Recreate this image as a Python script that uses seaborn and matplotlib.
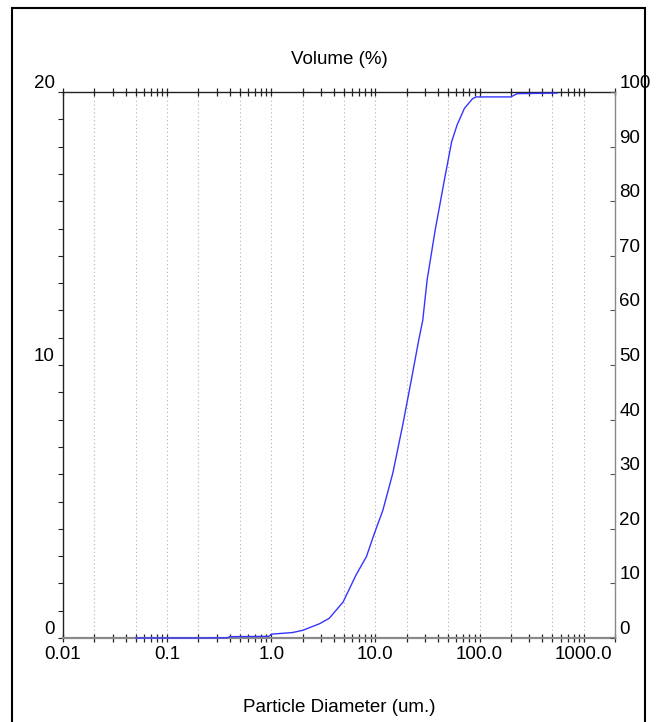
import numpy as np
import pandas as pd
import seaborn as sns
import matplotlib.pyplot as plt
from matplotlib.patches import Rectangle
from matplotlib.ticker import LogLocator, NullFormatter, FixedLocator, FixedFormatter, MultipleLocator

# cumulative volume curve
diameter = [0.05, 0.1, 0.2, 0.3, 0.38, 0.4, 0.6, 0.95, 1.0, 1.6, 2.0, 2.9, 3.6, 4.9,
            6.5, 8.2, 9.8, 11.8, 14.7, 18.3, 22.0, 26.1, 28.5, 31.4, 37.5, 46.0,
            54.0, 61.0, 71.6, 86.0, 93.0, 100.0, 200.0, 230.0, 560.0]
cum_volume = [0.0, 0.0, 0.0, 0.02, 0.05, 0.25, 0.27, 0.3, 0.7, 1.0, 1.4, 2.6, 3.6, 6.6,
              11.5, 14.9, 19.2, 23.4, 30.2, 39.0, 47.0, 54.6, 58.2, 65.6, 74.7, 83.9,
              90.9, 94.0, 97.0, 98.8, 99.1, 99.1, 99.1, 99.7, 99.8]
x_tick_vals = [0.01, 0.1, 1.0, 10.0, 100.0, 1000.0]
x_tick_labels = ["0.01", "0.1", "1.0", "10.0", "100.0", "1000.0"]
left_tick_vals = [0, 10, 20]
right_tick_vals = list(range(0, 101, 10))

df = pd.DataFrame({"diameter": diameter, "volume": cum_volume})

sns.set_style("white")
plt.rcParams["font.family"] = ["Liberation Sans", "DejaVu Sans"]
plt.rcParams["font.size"] = 13.5
for key in ["text.color", "axes.labelcolor", "xtick.labelcolor", "ytick.labelcolor"]:
    plt.rcParams[key] = "black"

fig = plt.figure(figsize=(6.57, 7.22), dpi=100)
ax = fig.add_axes([63 / 657, 1 - 638 / 722, (615 - 63) / 657, (638 - 92) / 722])
ax.set_xscale("log")
ax.set_ylim(0, 20)

ax2 = ax.twinx()
ax2.set_ylim(0, 100)
sns.lineplot(data=df, x="diameter", y="volume", ax=ax2, color="#3535ff", lw=1.0,
             estimator=None, sort=False, clip_on=False, zorder=5)
ax2.set_ylabel("")
ax2.set_xlabel("")
ax.set_xlim(0.01, 2000)

# vertical dotted grid at 1, 2, 5 per decade
grid_pos = [m * 10.0 ** e for e in range(-2, 4) for m in (1, 2, 5)][1:]
for g in grid_pos:
    ax.axvline(g, color="#b0b0b0", lw=0.8, ls=(0, (1, 2.5)), zorder=0)

ax.xaxis.set_major_locator(FixedLocator(x_tick_vals))
ax.xaxis.set_major_formatter(FixedFormatter(x_tick_labels))
ax.xaxis.set_minor_locator(LogLocator(base=10, subs=np.arange(2, 10)))
ax.xaxis.set_minor_formatter(NullFormatter())
ax.tick_params(axis="x", which="both", direction="inout", length=6, width=0.9,
               color="#222222", top=True, bottom=True, pad=3, labelsize=13.5)

ax.yaxis.set_major_locator(FixedLocator(left_tick_vals))
ax.yaxis.set_minor_locator(MultipleLocator(1))
ax.tick_params(axis="y", which="both", direction="out", length=3.5, width=0.8,
               color="#222222", left=True, pad=2.5, labelsize=13.5)
for lbl in ax.get_yticklabels():
    lbl.set_va("bottom")

for side in ["top", "left"]:
    ax.spines[side].set_color("#222222")
    ax.spines[side].set_linewidth(1.0)
ax.spines["bottom"].set_color("#8a8a8a")
ax.spines["bottom"].set_linewidth(1.6)
ax.spines["right"].set_visible(False)

ax2.yaxis.set_major_locator(FixedLocator(right_tick_vals))
ax2.tick_params(axis="y", direction="in", length=3.5, width=0.8, color="#555555",
                right=True, pad=3, labelsize=13.5)
for lbl in ax2.get_yticklabels():
    lbl.set_va("bottom")
for side in ["top", "left", "bottom"]:
    ax2.spines[side].set_visible(False)
ax2.spines["right"].set_color("#8a8a8a")
ax2.spines["right"].set_linewidth(1.0)

ax.set_xlabel("Particle Diameter (um.)", fontsize=13.5)
ax.xaxis.set_label_coords(0.5, (638 - 708) / 546)
ax.xaxis.label.set_va("center")

fig.text(0.5 * (63 + 615) / 657, 1 - 60 / 722, "Volume (%)", ha="center", va="center",
         fontsize=13.5)

fig.patches.append(Rectangle((12 / 657, -0.05), (645 - 12) / 657, 1.05 - 8 / 722,
                             transform=fig.transFigure, fill=False, ec="black", lw=1.5))

fig.savefig("out.png", dpi=100)
